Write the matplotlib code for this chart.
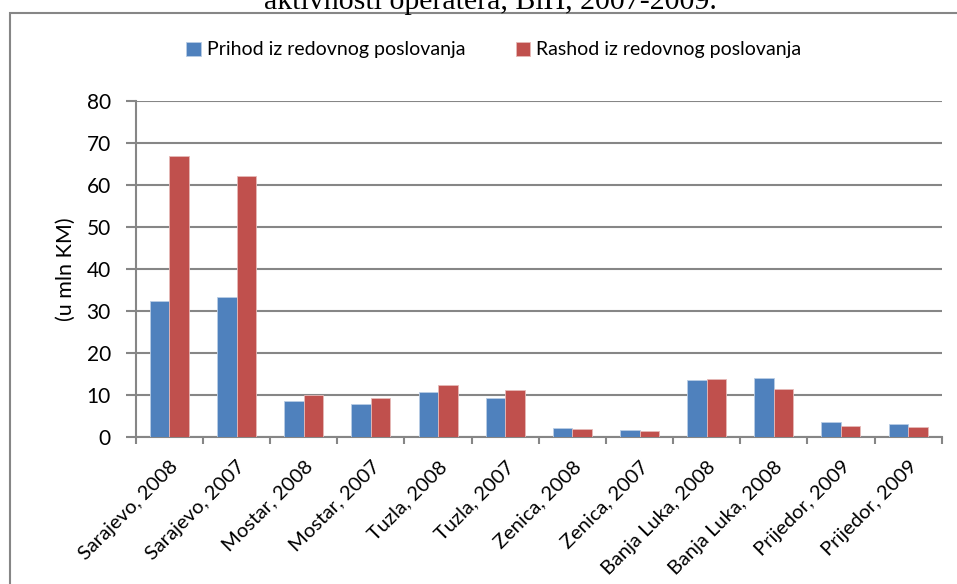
import numpy as np
import matplotlib.pyplot as plt
from matplotlib.patches import Rectangle

categories = ["Sarajevo, 2008", "Sarajevo, 2007", "Mostar, 2008", "Mostar, 2007",
              "Tuzla, 2008", "Tuzla, 2007", "Zenica, 2008", "Zenica, 2007",
              "Banja Luka, 2008", "Banja Luka, 2008", "Prijedor, 2009", "Prijedor, 2009"]
prihod = [32.4, 33.3, 8.5, 7.9, 10.6, 9.4, 2.1, 1.6, 13.5, 14.1, 3.6, 3.0]
rashod = [67.0, 62.2, 10.0, 9.4, 12.5, 11.3, 1.8, 1.5, 13.7, 11.4, 2.7, 2.3]
series_names = ["Prihod iz redovnog poslovanja", "Rashod iz redovnog poslovanja"]
y_ticks = [0, 10, 20, 30, 40, 50, 60, 70, 80]

grey = "#868686"
blue = "#4F81BD"
red = "#C0504D"
font = "Lato"

fig = plt.figure(figsize=(9.57, 5.84), dpi=100)
ax = fig.add_axes([0.142, 0.2517, 0.842, 0.5753])

x = np.arange(len(categories))
w = 0.29
ax.bar(x - w / 2, prihod, w, color=blue, edgecolor="#b9cde5", linewidth=0.6, label=series_names[0], zorder=3)
ax.bar(x + w / 2, rashod, w, color=red, edgecolor="#e6b9b8", linewidth=0.6, label=series_names[1], zorder=3)

ax.set_xlim(-0.5, len(categories) - 0.5)
ax.set_ylim(0, 80)
ax.set_yticks(y_ticks)
ax.set_yticklabels([str(v) for v in y_ticks], fontsize=15, family=font)
ax.yaxis.grid(True, color=grey, linewidth=1.5, zorder=0)

ax.set_xticks(x)
ax.set_xticklabels(categories, rotation=45, ha="right", rotation_mode="anchor",
                   fontsize=14.5, family=font)
ax.set_xticks(np.arange(len(categories) + 1) - 0.5, minor=True)
ax.tick_params(axis="x", which="major", length=0, pad=15)
ax.tick_params(axis="x", which="minor", length=5, width=1.5, color=grey)
ax.tick_params(axis="y", length=7, width=1.5, color=grey, pad=11)

for s in ["top", "right"]:
    ax.spines[s].set_visible(False)
for s in ["left", "bottom"]:
    ax.spines[s].set_color(grey)
    ax.spines[s].set_linewidth(1.5)

ax.set_ylabel("(u mln KM)", fontsize=15.5, family=font, labelpad=8)

fig.legend(loc="center", bbox_to_anchor=(0.516, 1 - 50 / 584), ncol=2, frameon=False,
           prop={"family": font, "size": 14}, handlelength=0.75, handleheight=0.75,
           handletextpad=0.3, columnspacing=2.6)

# outer chart frame (cut by the image edges)
fig.add_artist(Rectangle((10 / 957, -0.05), 1.0, 1 - 13 / 584 + 0.05, transform=fig.transFigure,
                         fill=False, edgecolor=grey, linewidth=1.5))

# title, mostly cut off above the image
fig.text(0.512, 1 - 9 / 584, "aktivnosti operatera, BiH, 2007-2009.", ha="center", va="baseline",
         fontsize=21.5, family="Liberation Serif")

fig.savefig("out.png", dpi=100)
